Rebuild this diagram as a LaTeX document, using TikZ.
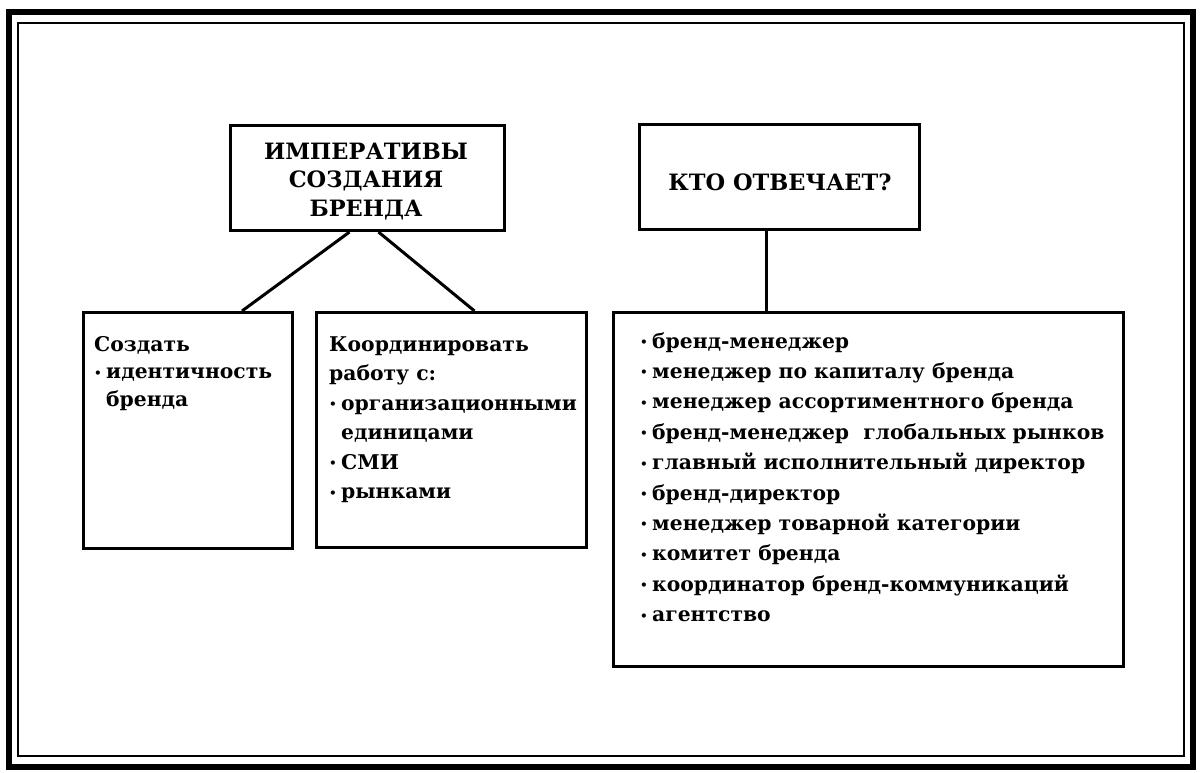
\documentclass[tikz,border=0pt]{standalone}
\usepackage{fontspec}
\setmainfont{DejaVu Serif}
\usetikzlibrary{calc}
\newcommand{\bl}{\makebox[12pt][l]{\fontsize{12}{12}\selectfont\raisebox{1.5pt}{•}}}
\newcommand{\ind}{\hspace*{12pt}}
\tikzset{
  box/.style={draw=black, line width=3pt, rectangle, anchor=north west, inner sep=0pt},
  head/.style={font=\fontsize{22.5}{28.5}\selectfont\bfseries, align=center, inner sep=0pt},
  body/.style={font=\fontsize{20.3}{29.5}\selectfont\bfseries, align=left, inner sep=0pt, anchor=base west},
  link/.style={line width=3pt}
}
\begin{document}
\begin{tikzpicture}[x=1pt,y=-1pt]
\useasboundingbox (0,0) rectangle (1201,773);
% frame
\draw[line width=6.5pt] (9,12) rectangle (1193,767);
\draw[line width=2.8pt] (18,23) rectangle (1184,756);
% boxes
\node[box, minimum width=274pt, minimum height=105pt] (imp) at (229,124) {};
\node[box, minimum width=280pt, minimum height=105pt] (kto) at (638,123) {};
\node[box, minimum width=209pt, minimum height=236pt] (create) at (82,311) {};
\node[box, minimum width=270pt, minimum height=235pt] (coord) at (315,311) {};
\node[box, minimum width=510pt, minimum height=354pt] (who) at (612,311) {};
% texts
\node[head] (impt) at (366,181.5) {ИМПЕРАТИВЫ\\СОЗДАНИЯ\\БРЕНДА};
\node[head] (ktot) at (780,182) {КТО ОТВЕЧАЕТ?};
\node[body, font=\fontsize{20.3}{27.5}\selectfont\bfseries] (createt) at (94,406) {Создать\\\bl идентичность\\\ind бренда};
\node[body] (coordt) at (329,498.5) {Координировать\\работу с:\\\bl организационными\\\ind единицами\\\bl СМИ\\\bl рынками};
\node[body, font=\fontsize{20.3}{30.4}\selectfont\bfseries] (whot) at (640,621.6) {\bl бренд-менеджер\\\bl менеджер по капиталу бренда\\\bl менеджер ассортиментного бренда\\\bl бренд-менеджер\ \ глобальных рынков\\\bl главный исполнительный директор\\\bl бренд-директор\\\bl менеджер товарной категории\\\bl комитет бренда\\\bl координатор бренд-коммуникаций\\\bl агентство};
% connectors
\draw[link] ([xshift=-18pt]imp.south) -- ([xshift=54pt]create.north);
\draw[link] ([xshift=11pt]imp.south) -- ([xshift=23pt]coord.north);
\draw[link] ([xshift=-13pt]kto.south) -- ([xshift=-102pt]who.north);
\end{tikzpicture}
\end{document}
